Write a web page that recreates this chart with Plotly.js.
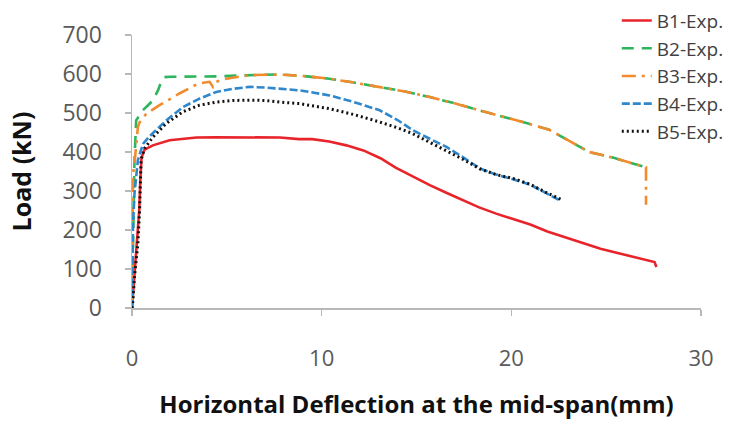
<!DOCTYPE html>
<html>
<head>
<meta charset="utf-8">
<script src="https://cdn.plot.ly/plotly-3.0.1.min.js"></script>
<style>html,body{margin:0;padding:0;background:#fff}#chart{width:736px;height:425px}</style>
</head>
<body>
<div id="chart"></div>
<script>
// Data (deflection mm, load kN)
const b1x = [0, 0.12, 0.28, 0.38, 0.44, 0.5, 0.66, 1.1, 1.98, 2.68, 3.4, 4.4, 5.3, 7.1, 7.8, 8.8, 9.5, 10.4, 11.3, 12.2, 13.1, 13.9, 14.8, 15.7, 16.6, 17.5, 18.3, 19.2, 20.1, 21.0, 21.9, 22.9, 23.8, 24.7, 25.6, 26.4, 27.0, 27.55, 27.65];
const b1y = [0, 80, 165, 250, 330, 385, 406, 417, 430, 433, 437, 438, 438, 437, 437, 433, 433, 427, 417, 404, 384, 360, 337, 315, 295, 276, 258, 242, 227, 214, 196, 180, 165, 152, 141, 131, 124, 118, 105];

const b2x = [0, 0.03, 0.08, 0.13, 0.22, 0.57, 1.1, 1.37, 1.54, 1.71, 2.0, 3.0, 4.0, 4.6, 5.5, 6.5, 7.8, 9.0, 10.4, 11.7, 13.1, 14.4, 15.7, 17.0, 18.3, 19.5, 20.6, 22.0, 23.2, 24.1, 25.4, 26.6, 27.0];
const b2y = [0, 120, 250, 379, 481, 507, 532, 558, 580, 592, 593, 593, 593, 594, 596, 598, 599, 595, 588, 578, 567, 555, 541, 525, 507, 492, 477, 457, 425, 400, 385, 368, 362];

const b3x = [0, 0.02, 0.05, 0.15, 0.31, 0.4, 0.75, 1.45, 2.5, 3.47, 4.09, 4.27, 4.44, 4.97, 6.2, 7.0, 7.95, 9.0, 10.4, 11.7, 13.1, 14.4, 15.7, 17.0, 18.3, 19.5, 20.6, 22.0, 23.2, 24.1, 25.4, 26.6, 27.1, 27.1];
const b3y = [0, 260, 340, 380, 464, 476, 498, 520, 550, 575, 580, 567, 580, 588, 597, 598, 598, 595, 588, 578, 567, 555, 541, 525, 507, 492, 477, 457, 425, 400, 385, 368, 361, 265];

const b4x = [0, 0.01, 0.05, 0.13, 0.31, 0.58, 0.92, 1.8, 2.68, 3.56, 4.44, 5.32, 6.2, 7.08, 7.96, 8.84, 9.6, 10.42, 11.7, 13.06, 14.0, 14.8, 15.7, 16.58, 17.5, 18.33, 19.2, 20.1, 21.0, 21.8, 22.56];
const b4y = [0, 122, 208, 293, 379, 421, 440, 481, 515, 537, 554, 562, 567, 565, 562, 558, 552, 545, 528, 507, 482, 456, 434, 413, 385, 358, 342, 330, 316, 296, 276];

const b5x = [0, 0.05, 0.13, 0.31, 0.4, 0.43, 0.48, 0.57, 0.66, 1.1, 1.8, 2.68, 3.56, 4.44, 5.32, 6.2, 7.08, 7.78, 8.84, 10.42, 11.7, 13.06, 14.0, 14.8, 15.7, 16.58, 17.5, 18.33, 19.2, 20.1, 21.0, 21.8, 22.6];
const b5y = [0, 20, 79, 165, 250, 336, 379, 395, 409, 438, 473, 503, 520, 528, 532, 533, 532, 528, 524, 511, 496, 477, 462, 447, 425, 404, 380, 357, 342, 332, 317, 297, 279];

const names = ['B1-Exp.', 'B2-Exp.', 'B3-Exp.', 'B4-Exp.', 'B5-Exp.'];
const xTicks = [0, 10, 20, 30];
const yTicks = [0, 100, 200, 300, 400, 500, 600, 700];

const traces = [
  {x: b1x, y: b1y, name: names[0], mode: 'lines', line: {color: '#e8242b', width: 2.6}},
  {x: b2x, y: b2y, name: names[1], mode: 'lines', line: {color: '#2db55d', width: 2.6, dash: '12px,8px'}},
  {x: b3x, y: b3y, name: names[2], mode: 'lines', line: {color: '#f28a2e', width: 2.6, dash: '14px,6px,3px,6px'}},
  {x: b4x, y: b4y, name: names[3], mode: 'lines', line: {color: '#2f87cc', width: 2.6, dash: '8px,3px'}},
  {x: b5x, y: b5y, name: names[4], mode: 'lines', line: {color: '#111111', width: 3, dash: '2px,3px'}}
];

const layout = {
  width: 736, height: 425,
  margin: {l: 132, r: 35, t: 35, b: 117, autoexpand: false},
  paper_bgcolor: '#ffffff', plot_bgcolor: '#ffffff',
  font: {family: 'Open Sans, sans-serif', color: '#595959'},
  showlegend: true,
  legend: {x: 0.852, y: 1.122, xanchor: 'left', yanchor: 'top', bgcolor: 'rgba(255,255,255,0)',
           font: {size: 19, color: '#404040'}, tracegroupgap: 0, itemwidth: 30},
  xaxis: {range: [0, 30], tickvals: xTicks, ticktext: xTicks.map(String), automargin: false,
          showgrid: false, zeroline: false, showline: true, linecolor: '#b8b8b8', linewidth: 1.5,
          ticks: 'outside', ticklen: 6, tickcolor: '#b8b8b8', tickwidth: 1.5,
          ticklabelstandoff: 24,
          tickfont: {size: 22, color: '#595959'},
          title: {text: 'Horizontal Deflection at the mid-span(mm)', standoff: 25,
                  font: {size: 24, color: '#111111', family: 'Open Sans, sans-serif', weight: 'bold'}}},
  yaxis: {range: [0, 700], tickvals: yTicks, ticktext: yTicks.map(String), automargin: false,
          showgrid: false, zeroline: false, showline: true, linecolor: '#b8b8b8', linewidth: 1.5,
          ticks: 'outside', ticklen: 6, tickcolor: '#b8b8b8', tickwidth: 1.5,
          ticklabelstandoff: 18,
          tickfont: {size: 23, color: '#595959'},
          title: {text: 'Load (kN)', standoff: 23,
                  font: {size: 25, color: '#111111', family: 'Open Sans, sans-serif', weight: 'bold'}}}
};

Plotly.newPlot('chart', traces, layout, {staticPlot: true, displayModeBar: false});
</script>
</body>
</html>
